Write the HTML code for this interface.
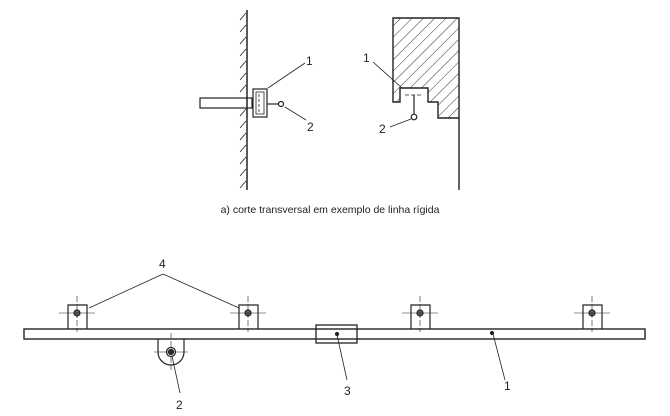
<!DOCTYPE html>
<html><head><meta charset="utf-8"><style>
html,body{margin:0;padding:0;background:#fff;}
svg{display:block}
text{font-family:"Liberation Sans",sans-serif;fill:#222}
</style></head><body>
<svg width="670" height="416" viewBox="0 0 670 416" xmlns="http://www.w3.org/2000/svg">
<defs>
<pattern id="h" width="8" height="8" patternUnits="userSpaceOnUse" patternTransform="rotate(45)">
<line x1="0" y1="0" x2="0" y2="8" stroke="#333" stroke-width="1"/>
</pattern>
<clipPath id="blk"><path d="M393,18 H459 V118 H438 V102 H428 V88 H400 V102 H393 Z"/></clipPath>
</defs>
<g stroke="#222" fill="none" stroke-width="1.2">
<!-- left wall -->
<line x1="247" y1="10" x2="247" y2="190" stroke-width="1.5"/>
<g stroke-width="0.8">
<line x1="240" y1="20" x2="246" y2="13"/><line x1="240" y1="32" x2="246" y2="25"/><line x1="240" y1="44" x2="246" y2="37"/><line x1="240" y1="56" x2="246" y2="49"/><line x1="240" y1="68" x2="246" y2="61"/><line x1="240" y1="80" x2="246" y2="73"/><line x1="240" y1="92" x2="246" y2="85"/><line x1="240" y1="116" x2="246" y2="109"/><line x1="240" y1="128" x2="246" y2="121"/><line x1="240" y1="140" x2="246" y2="133"/><line x1="240" y1="152" x2="246" y2="145"/><line x1="240" y1="164" x2="246" y2="157"/><line x1="240" y1="176" x2="246" y2="169"/><line x1="240" y1="188" x2="246" y2="181"/>
</g>
<rect x="200" y="98" width="52" height="10"/>
<rect x="253" y="89" width="14" height="28"/>
<rect x="256" y="92" width="8" height="22" stroke-width="0.8"/>
<line x1="259" y1="94" x2="259" y2="112" stroke-width="0.8" stroke-dasharray="3,2"/>
<line x1="267" y1="104" x2="279" y2="104"/>
<circle cx="281" cy="104" r="2.5"/>
<line x1="268" y1="88" x2="305" y2="63" stroke-width="0.8"/>
<line x1="285" y1="107" x2="306" y2="120" stroke-width="0.8"/>
<!-- right block -->
<rect x="390" y="15" width="72" height="106" fill="url(#h)" stroke="none" clip-path="url(#blk)"/>
<path d="M459,190 V18 H393 V102 H400 V88 H428 V102 H438 V118 H459" stroke-width="1.4"/>
<line x1="405" y1="95" x2="423" y2="95" stroke-width="0.8" stroke-dasharray="4,2"/>
<line x1="414" y1="95" x2="414" y2="114"/>
<circle cx="414" cy="117" r="2.8" fill="#fff"/>
<line x1="373" y1="62" x2="402" y2="88" stroke-width="0.8"/>
<line x1="390" y1="127" x2="411" y2="119" stroke-width="0.8"/>
<!-- bottom bar -->
<rect x="24" y="329" width="621" height="10" stroke-width="1.4"/>
<rect x="316" y="325" width="41" height="18" stroke-width="1.3"/>
<line x1="320" y1="329" x2="353" y2="329" stroke-width="0.7" stroke-dasharray="3,2"/>
<line x1="320" y1="339" x2="353" y2="339" stroke-width="0.7" stroke-dasharray="3,2"/>
<circle cx="337" cy="334" r="1.5" fill="#222"/>
<line x1="337" y1="335" x2="347" y2="380" stroke-width="0.8"/>
<circle cx="492" cy="333" r="1.5" fill="#222"/>
<line x1="493" y1="334" x2="505" y2="380" stroke-width="0.8"/>
<!-- brackets -->
<g id="b1">
<path d="M68,329 V305 H87 V329"/>
<circle cx="77" cy="313" r="3" fill="#666"/>
<line x1="59" y1="313" x2="95" y2="313" stroke-width="0.6"/>
<line x1="77" y1="296" x2="77" y2="332" stroke-width="0.6" stroke-dasharray="6,2"/>
</g>
<use href="#b1" x="171"/>
<use href="#b1" x="343"/>
<use href="#b1" x="515"/>
<!-- hanger -->
<path d="M158,339 V352 A13,13 0 0 0 184,352 V339"/>
<circle cx="171" cy="352" r="4.5"/>
<circle cx="171" cy="352" r="2.5" fill="#333"/>
<line x1="154" y1="352" x2="188" y2="352" stroke-width="0.6"/>
<line x1="171" y1="333" x2="171" y2="370" stroke-width="0.6" stroke-dasharray="6,2"/>
<line x1="172" y1="356" x2="180" y2="393" stroke-width="0.8"/>
<!-- 4 leaders -->
<line x1="163" y1="274" x2="89" y2="308" stroke-width="0.8"/>
<line x1="163" y1="274" x2="239" y2="308" stroke-width="0.8"/>
</g>
<g font-size="12">
<text x="306" y="65">1</text>
<text x="307" y="131">2</text>
<text x="363" y="62">1</text>
<text x="379" y="133">2</text>
<text x="159" y="268">4</text>
<text x="176" y="409">2</text>
<text x="344" y="395">3</text>
<text x="504" y="390">1</text>
</g>
<text x="330" y="213" font-size="10.5" text-anchor="middle">a) corte transversal em exemplo de linha rígida</text>
</svg>
</body></html>
